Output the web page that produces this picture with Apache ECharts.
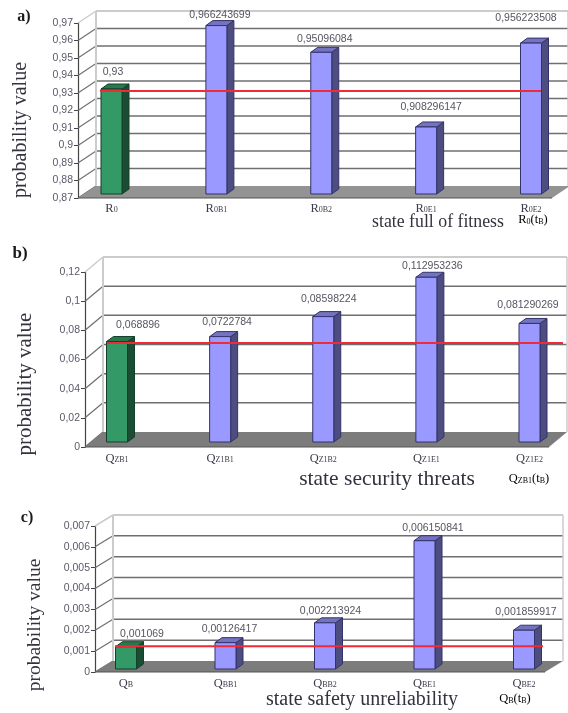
<!DOCTYPE html>
<html><head><meta charset="utf-8">
<style>html,body{margin:0;padding:0;background:#fff}#c{width:568px;height:713px}</style>
<script src="https://cdn.jsdelivr.net/npm/echarts@6/dist/echarts.min.js"></script>
</head><body><div id="c"></div>
<script>
const catsA = ['R|0','R|0B1','R|0B2','R|0E1','R|0E2'];
const valsA = [0.93,0.966243699,0.95096084,0.908296147,0.956223508];
const labelsA = ['0,93','0,966243699','0,95096084','0,908296147','0,956223508'];
const catsB = ['Q|ZB1','Q|Z1B1','Q|Z1B2','Q|Z1E1','Q|Z1E2'];
const valsB = [0.068896,0.0722784,0.08598224,0.112953236,0.081290269];
const labelsB = ['0,068896','0,0722784','0,08598224','0,112953236','0,081290269'];
const catsC = ['Q|B','Q|BB1','Q|BB2','Q|BE1','Q|BE2'];
const valsC = [0.001069,0.00126417,0.002213924,0.006150841,0.001859917];
const labelsC = ['0,001069','0,00126417','0,002213924','0,006150841','0,001859917'];
const ticksA = [0.87,0.88,0.89,0.9,0.91,0.92,0.93,0.94,0.95,0.96,0.97];
const ticksB = [0,0.02,0.04,0.06,0.08,0.1,0.12];
const ticksC = [0,0.001,0.002,0.003,0.004,0.005,0.006,0.007];

const W = 568;
const layouts = [
 {cats:catsA,vals:valsA,labels:labelsA,ticks:ticksA,interval:0.01,axisX:78,top:23,bottom:198,first:111.5,last:531,frontRight:552,dx:18,dy:12,barDy:4,lineDy:2,lineL:100,lineR:541,margin:4,
  lift:[17,10,13,20,25],ldx:[1.5,3.5,3.5,5,-5],floor:'#939393'},
 {cats:catsB,vals:valsB,labels:labelsB,ticks:ticksB,interval:0.02,axisX:85,top:272,bottom:447,first:117,last:529.5,frontRight:549,dx:18,dy:15,barDy:5,lineDy:3.5,lineL:107,lineR:563,margin:5,
  lift:[16,14,17,11,18],ldx:[21,7,5.5,6,-1.5],floor:'#7c7c7c'},
 {cats:catsC,vals:valsC,labels:labelsC,ticks:ticksC,interval:0.001,axisX:95,top:526,bottom:672,first:126,last:524,frontRight:545,dx:18,dy:11,barDy:3,lineDy:3.5,lineL:115,lineR:543,margin:5,
  lift:[13,14,12,13,18],ldx:[16,4,5.5,8.5,2],floor:'#7c7c7c'}
];
const SANS = '"Liberation Sans", Arial, sans-serif';
const SERIF = '"Liberation Serif", "Times New Roman", serif';
const fmtTick = v => String(+(+v).toFixed(3)).replace('.', ',');
const fmtCat = c => { const [m,s] = c.split('|'); return `{m|${m}}{s|${s}}`; };
const catRich = { m:{fontFamily:SERIF,fontSize:12.5,color:'#3a3a4a'}, s:{fontFamily:SERIF,fontSize:8,color:'#3a3a4a',padding:[3,0,0,0]} };

const grid=[],xAxis=[],yAxis=[],series=[];
layouts.forEach((p,i)=>{
  grid.push({left:p.first,width:p.last-p.first,top:p.top,height:p.bottom-p.top,containLabel:false});
  xAxis.push({gridIndex:i,type:'category',data:p.cats,boundaryGap:false,axisLine:{show:false},axisTick:{show:false},
    axisLabel:{interval:0,margin:p.margin,formatter:fmtCat,rich:catRich,hideOverlap:false}});
  yAxis.push({gridIndex:i,type:'value',min:p.ticks[0],max:p.ticks[p.ticks.length-1],interval:p.interval,offset:p.first-p.axisX,
    axisLine:{show:true,lineStyle:{color:'#444',width:1.2}},axisTick:{show:true,length:4,lineStyle:{color:'#444'}},splitLine:{show:false},
    axisLabel:{margin:5,formatter:fmtTick,color:'#5a5a6a',fontFamily:SANS,fontSize:10.5}});
  const min=p.ticks[0],max=p.ticks[p.ticks.length-1];
  // walls
  series.push({type:'custom',xAxisIndex:i,yAxisIndex:i,z:1,silent:true,
    data:p.ticks.map(t=>[0,t]),
    renderItem(params,api){
      const t=api.value(1), y=api.coord([0,t])[1], bx=p.axisX+p.dx, by=y-p.dy;
      const rx=Math.min(p.frontRight+p.dx,W);
      const isTop=t===max, col=isTop?'#cccccc':'#6f6f6f', lw=isTop?2:1.5;
      const ch=[{type:'line',shape:{x1:p.axisX,y1:y,x2:bx,y2:by},style:{stroke:col,lineWidth:isTop?1.5:1.2}}];
      if(t!==min) ch.push({type:'line',shape:{x1:bx,y1:by,x2:rx,y2:by},style:{stroke:col,lineWidth:lw}});
      if(isTop){
        const yb=api.coord([0,min])[1]-p.dy;
        ch.push({type:'line',shape:{x1:bx,y1:by,x2:bx,y2:yb},style:{stroke:'#cccccc',lineWidth:2}});
        ch.push({type:'line',shape:{x1:rx,y1:by,x2:rx,y2:yb},style:{stroke:'#cccccc',lineWidth:1.5}});
      }
      return {type:'group',children:ch};
    }});
  // floor
  series.push({type:'custom',xAxisIndex:i,yAxisIndex:i,z:2,silent:true,
    data:[[0,min]],
    renderItem(params,api){
      const y=api.coord([0,api.value(1)])[1];
      return {type:'group',children:[
        {type:'polygon',shape:{points:[[p.axisX,y],[p.frontRight,y],[p.frontRight+p.dx,y-p.dy],[p.axisX+p.dx,y-p.dy]]},style:{fill:p.floor}},
        {type:'line',shape:{x1:p.axisX,y1:y,x2:p.frontRight,y2:y},style:{stroke:'#555',lineWidth:1.2}}
      ]};
    }});
  // bars
  series.push({type:'custom',xAxisIndex:i,yAxisIndex:i,z:3,silent:true,
    data:p.vals.map((v,k)=>[k,v]),
    renderItem(params,api){
      const k=api.value(0), c=api.coord([k,api.value(1)]), base=api.coord([k,min]);
      const hw=10.5,d=7,rise=5,x0=c[0]-hw,x1=c[0]+hw,yt=c[1]-p.barDy,yb=base[1]-p.barDy;
      const green=k===0;
      const face=green?'#339966':'#9999ff',side=green?'#1a4d33':'#4d4d80',top=green?'#267a4d':'#7373bf',edge=green?'#14402a':'#33336b';
      return {type:'group',children:[
        {type:'polygon',shape:{points:[[x1,yt],[x1+d,yt-rise],[x1+d,yb-rise],[x1,yb]]},style:{fill:side,stroke:edge,lineWidth:1}},
        {type:'polygon',shape:{points:[[x0,yt],[x0+d,yt-rise],[x1+d,yt-rise],[x1,yt]]},style:{fill:top,stroke:edge,lineWidth:1}},
        {type:'rect',shape:{x:x0,y:yt,width:hw*2,height:yb-yt},style:{fill:face,stroke:edge,lineWidth:1}},
        {type:'text',style:{text:p.labels[k],x:c[0]+p.ldx[k],y:yt-p.lift[k],align:'center',verticalAlign:'middle',font:'10.5px '+SANS,fill:'#555560'}}
      ]};
    }});
  // reference line at first value
  series.push({type:'custom',xAxisIndex:i,yAxisIndex:i,z:4,silent:true,
    data:[[0,p.vals[0]]],
    renderItem(params,api){
      const y=api.coord([0,api.value(1)])[1]-p.lineDy;
      return {type:'line',shape:{x1:p.lineL,y1:y,x2:p.lineR,y2:y},style:{stroke:'#f02a36',lineWidth:2}};
    }});
});

const texts=[
 {t:'a)',x:24,y:17,s:16,w:'bold'},{t:'b)',x:20,y:254,s:17,w:'bold'},{t:'c)',x:27,y:518,s:16,w:'bold'},
 {t:'state full of fitness',x:438,y:222,s:17.8},
 {t:'state security threats',x:387,y:479,s:21.5},
 {t:'state safety unreliability',x:362,y:700,s:20}
];
const vnames=[{x:21,y:130,s:20},{x:25,y:384,s:21},{x:35,y:625,s:19.5}];
const extra=[
 {m:'R',s:'0',e:'(t',b:'B',x:533,y:220},
 {m:'Q',s:'ZB1',e:'(t',b:'B',x:529,y:479},
 {m:'Q',s:'B',e:'(t',b:'B',x:515,y:699}
];
const graphic=[
 ...texts.map(o=>({type:'text',z:10,style:{text:o.t,x:o.x,y:o.y,align:'center',verticalAlign:'middle',font:`${o.w||'normal'} ${o.s}px ${SERIF}`,fill:o.w?'#1a1a1a':'#33333f'}})),
 ...vnames.map(o=>({type:'text',z:10,x:o.x,y:o.y,rotation:Math.PI/2,style:{text:'probability value',x:0,y:0,align:'center',verticalAlign:'middle',font:`${o.s}px ${SERIF}`,fill:'#33333f'}})),
 ...extra.map(o=>({type:'text',z:10,style:{x:o.x,y:o.y,align:'center',verticalAlign:'middle',text:`{m|${o.m}}{s|${o.s}}{m|${o.e}}{s|${o.b}}{m|)}`,rich:catRich}}))
];
const chart=echarts.init(document.getElementById('c'),null,{renderer:'canvas'});
chart.setOption({animation:false,backgroundColor:'#fff',grid,xAxis,yAxis,series,graphic});
</script></body></html>
